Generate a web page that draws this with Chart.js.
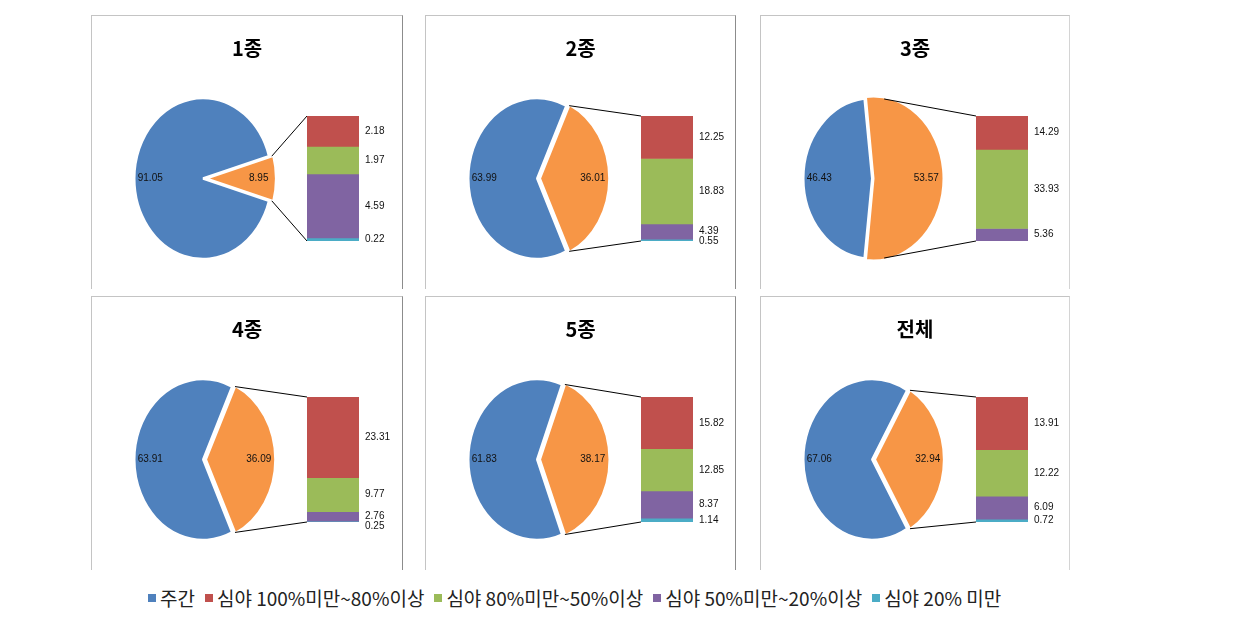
<!DOCTYPE html>
<html>
<head>
<meta charset="utf-8">
<script src="https://cdn.jsdelivr.net/npm/chart.js@4.4.0/dist/chart.umd.min.js"></script>
<style>
  body { margin: 0; background: #fff; width: 1233px; height: 631px; position: relative; overflow: hidden;
         font-family: "Noto Sans CJK KR", sans-serif; }
  .panel { position: absolute; height: 274px; box-sizing: border-box;
           border-left: 1px solid #c4c4c4; border-top: 1px solid #c4c4c4; border-right: 1px solid #8c8c8c; }
  .panel.last { border-right-color: #d4d4d4; }
  .panel canvas { position: absolute; }
  .title { position: absolute; left: 0; right: 0; top: 20px; text-align: center;
           font-weight: 700; font-size: 20px; line-height: 24px; color: #000; }
  #legend { position: absolute; left: 148px; top: 584px; display: flex; font-size: 19px;
            color: #222; white-space: nowrap; }
  #legend span.item { display: flex; align-items: center; margin-right: 10px; }
  #legend i { display: inline-block; width: 8px; height: 8px; margin-right: 4px; }
</style>
</head>
<body>
<div id="legend"></div>
<script>
// ---- data ----
const panelTitles  = ["1종", "2종", "3종", "4종", "5종", "전체"];
const seriesNames  = ["주간", "심야 100%미만~80%이상", "심야 80%미만~50%이상", "심야 50%미만~20%이상", "심야 20% 미만"];
const dayShare     = [91.05, 63.99, 46.43, 63.91, 61.83, 67.06];
const nightShare   = [8.95, 36.01, 53.57, 36.09, 38.17, 32.94];
const night100to80 = [2.18, 12.25, 14.29, 23.31, 15.82, 13.91];
const night80to50  = [1.97, 18.83, 33.93, 9.77, 12.85, 12.22];
const night50to20  = [4.59, 4.39, 5.36, 2.76, 8.37, 6.09];
const nightUnder20 = [0.22, 0.55, 0, 0.25, 1.14, 0.72];

// ---- style / layout ----
const SERIES_COLORS = ["#4F81BD", "#C0504D", "#9BBB59", "#8064A2", "#4BACC6"];
const NIGHT_COLOR   = "#F79646";
const LABEL_FONT    = "10px 'Liberation Sans', Arial, sans-serif";
const PANEL_X = [91, 425, 760], PANEL_W = [312, 311, 310], PANEL_Y = [15, 296];
const PIE_CX = 111, PIE_CY = 162.5, PIE_R = 68.5, PIE_SY = 1.175;
const BAR_L = 215, BAR_T = 100, BAR_W = 52, BAR_H = 125, BAR_PAD_R = 50;

// legend
const legendEl = document.getElementById("legend");
seriesNames.forEach((name, i) => {
  const item = document.createElement("span");
  item.className = "item";
  item.innerHTML = `<i style="background:${SERIES_COLORS[i]}"></i>${name}`;
  legendEl.appendChild(item);
});

const barLabels = {
  id: "barLabels",
  afterDatasetsDraw(chart) {
    const { ctx } = chart;
    ctx.save();
    ctx.font = LABEL_FONT;
    ctx.fillStyle = "#111";
    ctx.textAlign = "left";
    ctx.textBaseline = "middle";
    let lastY = -Infinity;
    chart.data.datasets.forEach((ds, i) => {
      const v = ds.data[0];
      if (!v) return;
      const el = chart.getDatasetMeta(i).data[0];
      let y = (el.y + el.base) / 2;
      if (y < lastY + 10) y = lastY + 10;
      lastY = y;
      ctx.fillText(v.toFixed(2), el.x + el.width / 2 + 6, y);
    });
    ctx.restore();
  },
};

function makeBar(canvas, k) {
  const parts = [night100to80[k], night80to50[k], night50to20[k], nightUnder20[k]];
  const total = parts.reduce((a, b) => a + b, 0);
  return new Chart(canvas.getContext("2d"), {
    type: "bar",
    data: {
      labels: [""],
      datasets: parts.map((v, i) => ({
        label: seriesNames[i + 1],
        data: [v],
        backgroundColor: SERIES_COLORS[i + 1],
        borderWidth: 0,
        barPercentage: 1,
        categoryPercentage: 1,
      })),
    },
    options: {
      responsive: false,
      animation: false,
      layout: { padding: { left: 0, right: BAR_PAD_R, top: 10, bottom: 10 } },
      plugins: { legend: { display: false }, tooltip: { enabled: false } },
      scales: {
        x: { stacked: true, display: false },
        y: { stacked: true, display: false, reverse: true, min: 0, max: total },
      },
    },
    plugins: [barLabels],
  });
}

const normAngle = (a) => a - 2 * Math.PI * Math.round(a / (2 * Math.PI));

function makePie(canvas, k, barChart) {
  const stretch = {
    id: "stretch",
    beforeDatasetsDraw(chart) {
      const a = chart.getDatasetMeta(0).data[0];
      const { ctx } = chart;
      ctx.save();
      ctx.translate(a.x, a.y);
      ctx.scale(1, PIE_SY);
      ctx.translate(-a.x, -a.y);
    },
    afterDatasetsDraw(chart) {
      const { ctx } = chart;
      ctx.restore();
      const arcs = chart.getDatasetMeta(0).data;

      // connector lines from the night slice to the stacked bar
      const o = arcs[1];
      const half = (o.startAngle + o.endAngle) / 2;
      const off = (o.options.offset || 0) / 4;
      const cx = o.x + Math.cos(half) * off, cy = o.y + Math.sin(half) * off; // unstretched centre
      const R = o.outerRadius;
      const bEl = barChart.getDatasetMeta(0).data[0];
      const ys = barChart.scales.y;
      const dx = BAR_L, dy = BAR_T - 10;
      const bx = bEl.x - bEl.width / 2 + dx;
      const yA = Math.min(ys.getPixelForValue(ys.min), ys.getPixelForValue(ys.max)) + dy;
      const yB = Math.max(ys.getPixelForValue(ys.min), ys.getPixelForValue(ys.max)) + dy;
      // tangent angle from a bar corner to the (unstretched) circle
      const tangent = (qx, qy, sign) => {
        const ux = qx - cx, uy = (qy - o.y) / PIE_SY - (cy - o.y);
        const phi = Math.atan2(uy, ux), d = Math.hypot(ux, uy);
        return phi + sign * Math.acos(Math.min(1, R / d));
      };
      const aTop = Math.max(normAngle(o.startAngle), tangent(bx, yA, -1));
      const aBot = Math.min(normAngle(o.endAngle), tangent(bx, yB, 1));
      const pt = (ang) => ({ x: cx + R * Math.cos(ang), y: o.y + (cy - o.y + R * Math.sin(ang)) * PIE_SY });
      const p1 = pt(aTop), p2 = pt(aBot);
      ctx.save();
      ctx.strokeStyle = "#000";
      ctx.lineWidth = 1;
      ctx.beginPath();
      ctx.moveTo(p1.x, p1.y); ctx.lineTo(bx, yA);
      ctx.moveTo(p2.x, p2.y); ctx.lineTo(bx, yB);
      ctx.stroke();

      // slice labels
      ctx.font = LABEL_FONT;
      ctx.fillStyle = "#111";
      ctx.textAlign = "center";
      ctx.textBaseline = "middle";
      arcs.forEach((el, i) => {
        const mid = (el.startAngle + el.endAngle) / 2;
        const r = el.outerRadius * 0.77 + (el.options.offset || 0) / 4;
        const v = chart.data.datasets[0].data[i];
        ctx.fillText(v.toFixed(2), el.x + Math.cos(mid) * r, el.y + Math.sin(mid) * r * PIE_SY);
      });
      ctx.restore();
    },
  };

  const W = canvas.width, H = canvas.height;
  return new Chart(canvas.getContext("2d"), {
    type: "pie",
    data: {
      labels: [seriesNames[0], "심야"],
      datasets: [{
        data: [dayShare[k], nightShare[k]],
        backgroundColor: [SERIES_COLORS[0], NIGHT_COLOR],
        borderColor: "#fff",
        borderWidth: 2,
        offset: [0, nightShare[k] > 50 ? 6 : 12],
        clip: false,
      }],
    },
    options: {
      responsive: false,
      animation: false,
      radius: PIE_R,
      rotation: 90 + nightShare[k] * 1.8,
      layout: { padding: { left: PIE_CX - PIE_R, top: PIE_CY - PIE_R, right: W - PIE_CX - PIE_R, bottom: H - PIE_CY - PIE_R } },
      plugins: { legend: { display: false }, tooltip: { enabled: false } },
    },
    plugins: [stretch],
  });
}

panelTitles.forEach((title, k) => {
  const col = k % 3, row = Math.floor(k / 3);
  const panel = document.createElement("div");
  panel.className = "panel" + (col === 2 ? " last" : "");
  panel.style.left = PANEL_X[col] + "px";
  panel.style.top = PANEL_Y[row] + "px";
  panel.style.width = PANEL_W[col] + "px";
  document.body.appendChild(panel);

  const pieCanvas = document.createElement("canvas");
  pieCanvas.width = PANEL_W[col] - 2;
  pieCanvas.height = 273;
  pieCanvas.style.left = "0px";
  pieCanvas.style.top = "0px";
  panel.appendChild(pieCanvas);

  const barCanvas = document.createElement("canvas");
  barCanvas.width = BAR_W + BAR_PAD_R;
  barCanvas.height = BAR_H + 20;
  barCanvas.style.left = BAR_L + "px";
  barCanvas.style.top = (BAR_T - 10) + "px";
  panel.appendChild(barCanvas);

  const t = document.createElement("div");
  t.className = "title";
  t.textContent = title;
  panel.appendChild(t);

  const bar = makeBar(barCanvas, k);
  makePie(pieCanvas, k, bar);
});
</script>
</body>
</html>
